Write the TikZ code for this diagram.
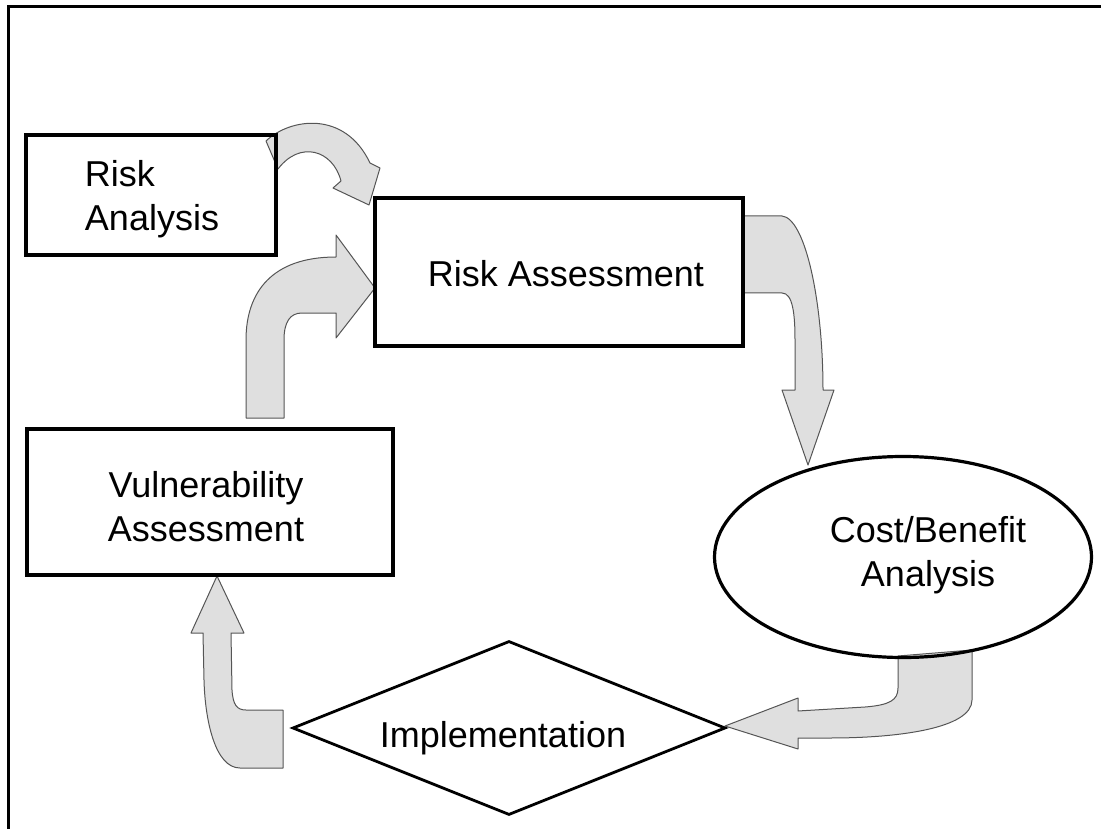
\documentclass[tikz,border=0pt]{standalone}
\usepackage{fontspec}
\setmainfont{Liberation Sans}
\usetikzlibrary{shapes.geometric,backgrounds}
\definecolor{arrowfill}{RGB}{223,223,223}
\definecolor{arrowline}{RGB}{85,85,85}
\begin{document}
\begin{tikzpicture}[x=1pt,y=-1pt,
  boxshape/.style={draw=black, line width=3.8pt, inner sep=0pt},
  lbl/.style={font=\fontsize{36}{44}\selectfont, inner sep=0pt, align=center},
  blockarrow/.style={fill=arrowfill, draw=arrowline, line width=1pt, line join=round}]
\path[use as bounding box] (0,0) rectangle (1101,829);
% frame
\draw[line width=3pt] (8,829) -- (8,7) -- (1101,7);
% shapes
\node[boxshape, minimum width=250, minimum height=120] (ra) at (151,195) {};
\node[lbl, align=left] (rat) at (152,199) {Risk\\Analysis};
\node[boxshape, minimum width=368, minimum height=148] (ras) at (559,272) {};
\node[lbl] (rast) at (566,274) {Risk Assessment};
\node[boxshape, minimum width=366, minimum height=146] (va) at (210,502) {};
\node[lbl] (vat) at (206,507) {Vulnerability\\Assessment};
\node[ellipse, draw=black, line width=3.2pt, minimum width=377, minimum height=201, inner sep=0pt] (cb) at (903,557) {};
\node[lbl] (cbt) at (928,555) {Cost/Benefit\\Analysis};
\node[diamond, draw=black, line width=2.8pt, minimum width=433, minimum height=174, inner sep=0pt, aspect=2.5] (im) at (509,728) {};
\node[lbl] (imt) at (503,738) {Implementation};
% block arrows
\begin{scope}[on background layer]
\draw[blockarrow] (266,141) .. controls (290,118) and (345,110) .. (370,163) -- (380,168) -- (369,205) -- (333,188) -- (341,181) .. controls (333,150) and (300,140) .. (278,169) -- cycle;
\draw[blockarrow] (246,418) -- (246,340) .. controls (246,292) and (272,257) .. (336,257) -- (336,235) -- (375,288) -- (336,338) -- (336,313) -- (302,313) .. controls (290,313) and (284,322) .. (284,340) -- (284,418) -- cycle;
\draw[blockarrow] (743,216) -- (782,216) .. controls (805,218) and (823,300) .. (823,390) -- (834,390) -- (808,465) -- (782,390) -- (795,390) -- (795,340) .. controls (795,315) and (793,293) .. (782,293) -- (743,293) -- cycle;
\draw[blockarrow] (898,656) -- (972,650) -- (972,700) .. controls (972,728) and (900,738) .. (830,738) -- (798,738) -- (798,749) -- (725,726) -- (798,698) -- (798,711) -- (865,707) .. controls (890,705) and (898,700) .. (898,688) -- cycle;
\draw[blockarrow] (217,576) -- (244,633) -- (231,633) -- (232,690) .. controls (233,705) and (237,710) .. (246,710) -- (283,710) -- (283,768) -- (240,768) .. controls (215,768) and (205,720) .. (204,680) -- (203,633) -- (191,633) -- cycle;
\end{scope}
\end{tikzpicture}
\end{document}
